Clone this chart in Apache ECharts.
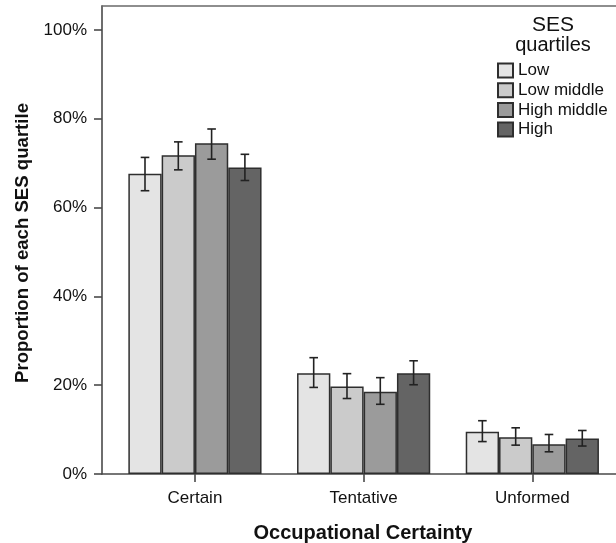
<!DOCTYPE html>
<html>
<head>
<meta charset="utf-8">
<script src="https://cdn.jsdelivr.net/npm/echarts@6/dist/echarts.min.js"></script>
<style>
html,body{margin:0;padding:0;background:#fff;}
#chart{width:616px;height:543px;}
</style>
</head>
<body>
<div id="chart"></div>
<script>
// ---- data ----
const CATEGORIES = ['Certain', 'Tentative', 'Unformed'];
const SES_NAMES = ['Low', 'Low middle', 'High middle', 'High'];
const LOW = [67.6, 22.7, 9.5];
const LOW_MIDDLE = [71.8, 19.7, 8.3];
const HIGH_MIDDLE = [74.5, 18.5, 6.7];
const HIGH = [69.0, 22.7, 8.0];
const LOW_CI = [[63.8, 71.3], [19.5, 26.2], [7.3, 12.0]];
const LOW_MIDDLE_CI = [[68.5, 74.8], [17.0, 22.6], [6.5, 10.4]];
const HIGH_MIDDLE_CI = [[70.9, 77.7], [15.7, 21.7], [5.0, 8.9]];
const HIGH_CI = [[66.1, 72.0], [20.1, 25.5], [6.3, 9.8]];
const Y_TICKS = [0, 20, 40, 60, 80, 100];

const VALUES = [LOW, LOW_MIDDLE, HIGH_MIDDLE, HIGH];
const CIS = [LOW_CI, LOW_MIDDLE_CI, HIGH_MIDDLE_CI, HIGH_CI];
const COLORS = ['#e4e4e4', '#cbcbcb', '#9b9b9b', '#646464'];
const BAR_W = 33.3;
const FONT = '"Liberation Sans", Arial, sans-serif';
const TXT = '#111';

const series = [];
VALUES.forEach((vals, k) => {
  series.push({
    name: SES_NAMES[k],
    type: 'bar',
    xAxisIndex: 0, yAxisIndex: 0,
    barWidth: BAR_W,
    barGap: '0%',
    itemStyle: { color: COLORS[k], borderColor: '#2e2e2e', borderWidth: 1.5 },
    emphasis: { disabled: true },
    data: vals.map((v, i) => [i, v]),
    z: 2
  });
});
CIS.forEach((ci, k) => {
  series.push({
    type: 'custom',
    xAxisIndex: 0, yAxisIndex: 0,
    encode: { x: 0, y: [1, 2] },
    data: ci.map((c, i) => [i, c[0], c[1]]),
    z: 5,
    silent: true,
    renderItem: function (params, api) {
      const x = api.value(0);
      const pLo = api.coord([x, api.value(1)]);
      const pHi = api.coord([x, api.value(2)]);
      const cx = pLo[0] + (k - 1.5) * BAR_W;
      const hw = 4.3;
      const st = { stroke: '#222', lineWidth: 1.6 };
      return {
        type: 'group',
        children: [
          { type: 'line', shape: { x1: cx, y1: pLo[1], x2: cx, y2: pHi[1] }, style: st },
          { type: 'line', shape: { x1: cx - hw, y1: pHi[1], x2: cx + hw, y2: pHi[1] }, style: st },
          { type: 'line', shape: { x1: cx - hw, y1: pLo[1], x2: cx + hw, y2: pLo[1] }, style: st }
        ]
      };
    }
  });
});

const chart = echarts.init(document.getElementById('chart'), null, { renderer: 'canvas' });
chart.setOption({
  animation: false,
  backgroundColor: '#fff',
  grid: { left: 102, right: 0, top: 6, bottom: 69, containLabel: false, outerBoundsMode: 'none' },
  legend: {
    orient: 'vertical',
    left: 492, top: 57,
    itemWidth: 15, itemHeight: 14, itemGap: 2.7,
    icon: 'rect',
    data: SES_NAMES,
    textStyle: { fontFamily: FONT, fontSize: 17, color: TXT, lineHeight: 14 },
    selectedMode: false
  },
  graphic: [
    { type: 'text', x: 553, y: 25, style: { text: 'SES', fontFamily: FONT, fontSize: 21, fill: TXT, textAlign: 'center', textVerticalAlign: 'middle' } },
    { type: 'text', x: 553, y: 45, style: { text: 'quartiles', fontFamily: FONT, fontSize: 20, fill: TXT, textAlign: 'center', textVerticalAlign: 'middle' } }
  ],
  xAxis: [
    {
      type: 'value',
      min: -0.551, max: 2.496,
      name: 'Occupational Certainty',
      nameLocation: 'middle',
      nameGap: 49,
      nameTextStyle: { fontFamily: FONT, fontSize: 20, fontWeight: 'bold', color: TXT, padding: [0, 0, 0, 8] },
      axisLine: { show: true, onZero: false, lineStyle: { color: '#4a4a4a', width: 1.6 } },
      axisTick: { show: true, inside: false, length: 8, customValues: [0, 1, 2], lineStyle: { color: '#4a4a4a', width: 1.6 } },
      axisLabel: {
        customValues: [0, 1, 2],
        margin: 16,
        fontFamily: FONT, fontSize: 17, color: TXT,
        formatter: v => CATEGORIES[Math.round(v)] || ''
      },
      splitLine: { show: false }
    },
    {
      type: 'value',
      position: 'top',
      min: -0.551, max: 2.496,
      axisLine: { show: true, onZero: false, lineStyle: { color: '#6a6a6a', width: 1.6 } },
      axisTick: { show: false },
      axisLabel: { show: false },
      splitLine: { show: false }
    }
  ],
  yAxis: {
    type: 'value',
    min: 0, max: 105.4,
    name: 'Proportion of each SES quartile',
    nameLocation: 'middle',
    nameGap: 70,
    nameTextStyle: { fontFamily: FONT, fontSize: 18.6, fontWeight: 'bold', color: TXT, padding: [0, 6, 0, 0] },
    axisLine: { show: true, onZero: false, lineStyle: { color: '#4a4a4a', width: 1.6 } },
    axisTick: { show: true, inside: false, length: 8, customValues: Y_TICKS, lineStyle: { color: '#4a4a4a', width: 1.6 } },
    axisLabel: {
      customValues: Y_TICKS,
      margin: 15,
      fontFamily: FONT, fontSize: 17, color: TXT,
      formatter: v => v + '%'
    },
    splitLine: { show: false }
  },
  series: series
});
</script>
</body>
</html>
